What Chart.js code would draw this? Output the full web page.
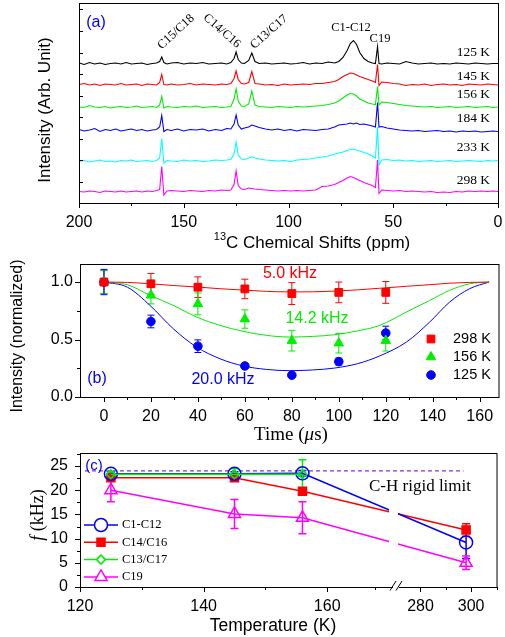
<!DOCTYPE html>
<html>
<head>
<meta charset="utf-8">
<script src="https://cdn.jsdelivr.net/npm/chart.js@4.4.1/dist/chart.umd.min.js"></script>
<style>
  body { margin: 0; background: #fff; width: 505px; height: 637px; position: relative; overflow: hidden; }
  canvas { position: absolute; left: 0; }
</style>
</head>
<body>
<canvas id="chartA" width="505" height="262" style="top:0"></canvas>
<canvas id="chartB" width="505" height="194" style="top:250px"></canvas>
<canvas id="chartC" width="505" height="195" style="top:442px"></canvas>
<script>
// ---- (a) 13C spectra ----
const ppm = [200,197.5,195,192.5,190,187.5,185,182.5,180,177.5,
  175,172.5,170,167.5,165,163,161.5,160.5,159.5,158,
  156,153,150,147,144,141,138,135,132,129.5,
  127.5,126,125,124,122.5,121,119,117.5,116,114,
  111,108,105,102,99,96,93,90,87,84,
  81,78,76,74,72,70.5,69,67.5,66,64,
  62,60,58.5,57.5,56.8,55.5,53,50,47,44,
  41,38,35,32,29,26,23,20,17,14,
  11,8,5,2.5,0];
const spectrumTemps = ['125 K', '145 K', '156 K', '184 K', '233 K', '298 K'];
const spectrumOffsets = [139.5, 118.5, 96, 73, 42, 11.5];
const spec125 = [0.5,-1,1,-0.5,0.5,-1,0,0.5,-0.5,1,
  -0.5,0,0.5,-1,0,0.5,2,6.5,1,-0.5,
  0.5,1,-0.5,0.5,0,1,-0.5,0,0.5,-0.5,
  1,5,11.5,4,0.5,0,3,10.5,2,0,
  0.5,-0.5,0,0.5,-0.5,0,1,-0.5,0.5,0,
  1.5,0.5,2,6,13,20,23,19,11,5,
  2,0.5,0,17,0,-0.5,0.5,0,-0.5,2,
  0.5,-0.5,0,0.5,-0.5,0,-0.5,0.5,0,-0.5,
  0.5,0,-0.5,0,0];
const spec145 = [0,1,-0.5,0.5,-1,0.5,0,-0.5,1,-0.5,
  0,0.5,-1,0.5,0,-0.5,2,10,0,-0.5,
  0.5,-0.5,0,1,-0.5,0.5,0,-0.5,0.5,0,
  1,6,13.5,5,1,0.5,2,13,1,0.5,
  -0.5,0,-1,0.5,-0.5,0,0.5,0,1,1,
  2,3,5,8,10,11.5,11,9.5,8,6.5,
  5,3.5,2,20,-1,2.5,2,1,0.5,-1,
  0,-0.5,0.5,-1,0,0.5,-0.5,0,-1,0.5,
  0,-0.5,0.5,0,-0.5];
const spec156 = [0,-0.5,1.5,0,-0.5,0.5,-1,0,0.5,-0.5,
  0,1,-0.5,0,0.5,-0.5,2,10.5,-1,0.5,
  0,-0.5,0.5,0,1,-0.5,0,0.5,-0.5,0,
  0.5,8,18,6,1,0.5,3,16,2,0.5,
  0,-0.5,0.5,0,-0.5,0.5,0,0.5,1,1.5,
  2.5,4,6,9,12,13.5,13,11,8,6,
  4,3,2.5,20.5,2,5,4.5,3.5,2.5,1.5,
  1,0.5,0,0.5,-0.5,0,0.5,-0.5,0,0.5,
  -0.5,0,0.5,-0.5,0];
const spec184 = [0.5,-1,0,1.5,-1.5,0.5,-0.5,1,-1,0,
  1,-0.5,0.5,-1,0,0.5,3,14.5,-1.5,0.5,
  -0.5,1,-1,0.5,0,1,-1,0.5,-0.5,1.5,
  1,6,15,5,1,2,3,5,4,2.5,
  1,0,1,-0.5,0.5,-1,0.5,0,-0.5,0.5,
  1,3,5,5.5,6,7,6,7,5.5,6,
  5,4,3,27.5,3,3.5,2,1,0,-0.5,
  -1,-0.5,-1.5,-1,-0.5,-1.5,-1,-2,-1,-1.5,
  -1,-2,-1.5,-1,-1.5];
const spec233 = [-0.5,0.5,-1,0,1,-0.5,0,-1,0.5,0,
  1,-0.5,0,0.5,-0.5,0.5,3,22.5,-2,0.5,
  0,-0.5,1,0,0.5,-0.5,0,1,0.5,1,
  1.5,7,19,6,2,1.5,3,4,3,2,
  1,0.5,0,0.5,-0.5,1,1.5,2,3,4,
  5,7,8,9,10.5,11.5,12,11,10,8.5,
  7,5,3,34,-4,1,1.5,0.5,1,0,
  0.5,-0.5,0,0.5,-0.5,0,0.5,-0.5,0,0.5,
  0,-0.5,0.5,0,0.5];
const spec298 = [0,-0.5,0.5,0,-1,0.5,0,-0.5,0.5,-0.5,
  0,0.5,-0.5,0.5,0,1,2,25,-3.5,0.5,
  1,0.5,0,1,0.5,0,1,0.5,1.5,1,
  1.5,7,20.5,6,2.5,2,3.5,3,2.5,2,
  1.5,1,0.5,1,0.5,1,0.5,1,1.5,5,
  5.5,7,9,11,13.5,15,14,12.5,11,9,
  7.5,6,4,31.5,-2,1.5,1,0.5,1,0,
  0.5,0,-0.5,0,-1,-0.5,-1,0,-0.5,0.5,
  0,0.5,0,0.5,0];
const ppmTicks = [200, 150, 100, 50, 0];

// ---- (b) intensity vs time ----
const times = [0, 20, 40, 60, 80, 100, 120];
const int298 = [1.0, 0.985, 0.955, 0.94, 0.90, 0.91, 0.91];
const err298 = [0.1, 0.09, 0.09, 0.085, 0.095, 0.09, 0.095];
const int156 = [1.0, 0.885, 0.81, 0.678, 0.49, 0.468, 0.49];
const err156 = [0.1, 0.075, 0.095, 0.08, 0.09, 0.085, 0.09];
const int125 = [1.0, 0.657, 0.442, 0.27, 0.19, 0.308, 0.556];
const err125 = [0.11, 0.055, 0.055, 0.02, 0.015, 0.03, 0.06];
const fitT = [0, 10, 19.6, 29.5, 39.4, 49.4, 59.3, 69.2, 79.1, 88.7, 98.3, 108, 117.4, 128.8, 138.7, 147.2, 155.7, 164];
const fit5 = [1.0, 0.997, 0.985, 0.97, 0.957, 0.942, 0.93, 0.919, 0.914, 0.915, 0.921, 0.932, 0.946, 0.963, 0.977, 0.99, 0.997, 1.0];
const fit14 = [1.0, 0.977, 0.884, 0.797, 0.696, 0.623, 0.571, 0.536, 0.522, 0.527, 0.542, 0.575, 0.623, 0.739, 0.84, 0.928, 0.985, 1.0];
const fit20 = [1.0, 0.955, 0.797, 0.594, 0.435, 0.333, 0.27, 0.24, 0.229, 0.235, 0.252, 0.29, 0.357, 0.478, 0.652, 0.826, 0.942, 1.0];
const timeTicks = [0, 20, 40, 60, 80, 100, 120, 140, 160];
const intTicks = [0, 0.5, 1.0];

// ---- (c) f vs temperature ----
const tempsC = [125, 145, 156, 298];
const fC1C12 = [23.4, 23.4, 23.5, 9.2];
const eC1C12 = [0.4, 0.4, 0.6, 3.3];
const fC14C16 = [22.6, 22.6, 19.8, 11.8];
const eC14C16 = [0.4, 0.4, 0.6, 1.3];
const fC13C17 = [23.3, 23.3, 23.3];
const eC13C17 = [0.5, 1.2, 3.0];
const fC19 = [20.0, 15.1, 14.3, 5.0];
const eC19 = [2.4, 3.0, 3.3, 1.4];
const rigidLimit = 24;
const rigidSpan = [120.8, 297];
const tempTicks = [120, 140, 160, 280, 300];
const fTicks = [0, 5, 10, 15, 20, 25];

// broken temperature axis: 120-170 K as is, 280-310 K squeezed after the break
function tv(T) { return T <= 200 ? T : 175.1 + (T - 280) * 0.41; }

Chart.defaults.font.family = 'Liberation Sans';
Chart.defaults.color = '#000';
Chart.defaults.animation = false;

const SANS = 'Liberation Sans', SERIF = 'Liberation Serif';

function line(ctx, x1, y1, x2, y2) { ctx.beginPath(); ctx.moveTo(x1, y1); ctx.lineTo(x2, y2); ctx.stroke(); }
function text(ctx, s, x, y, font, color, align, rot) {
  ctx.save();
  ctx.translate(x, y);
  if (rot) ctx.rotate(rot);
  ctx.font = font; ctx.fillStyle = color || '#000';
  ctx.textAlign = align || 'center'; ctx.textBaseline = 'middle';
  ctx.fillText(s, 0, 0);
  ctx.restore();
}
// parts: [text, font, dy]
function mixed(ctx, parts, cx, cy, rot) {
  ctx.save();
  ctx.translate(cx, cy);
  if (rot) ctx.rotate(rot);
  ctx.fillStyle = '#000'; ctx.textBaseline = 'middle'; ctx.textAlign = 'left';
  let w = 0;
  parts.forEach(p => { ctx.font = p[1]; w += ctx.measureText(p[0]).width; });
  let x = -w / 2;
  parts.forEach(p => { ctx.font = p[1]; ctx.fillText(p[0], x, p[2] || 0); x += ctx.measureText(p[0]).width; });
  ctx.restore();
}
function xTicks(ctx, sx, a, vals, len) { vals.forEach(v => { const p = Math.round(sx.getPixelForValue(v)) + 0.5; line(ctx, p, a.bottom, p, a.bottom + len); }); }
function yTicks(ctx, sy, a, vals, len) { vals.forEach(v => { const p = Math.round(sy.getPixelForValue(v)) + 0.5; line(ctx, a.left, p, a.left - len, p); }); }
function frame(ctx, a) { ctx.strokeRect(a.left + 0.5, a.top + 0.5, a.right - a.left, a.bottom - a.top); }

const errorBars = {
  id: 'errorBars',
  beforeDatasetsDraw(chart) {
    const { ctx, scales: { y } } = chart;
    chart.data.datasets.forEach((ds, i) => {
      if (!ds.errs) return;
      const meta = chart.getDatasetMeta(i);
      ctx.save();
      ctx.strokeStyle = ds.borderColor;
      ctx.lineWidth = ds.errWidth || 1;
      meta.data.forEach((pt, j) => {
        const e = ds.errs[j];
        if (!e) return;
        const v = ds.data[j].y;
        const y1 = y.getPixelForValue(v + e), y2 = y.getPixelForValue(v - e);
        const c = ds.capHalf || 3.5;
        ctx.beginPath();
        ctx.moveTo(pt.x, y1); ctx.lineTo(pt.x, y2);
        ctx.moveTo(pt.x - c, y1); ctx.lineTo(pt.x + c, y1);
        ctx.moveTo(pt.x - c, y2); ctx.lineTo(pt.x + c, y2);
        ctx.stroke();
      });
      ctx.restore();
    });
  }
};

function fixedTicks(vals) { return s => { s.ticks = vals.map(v => ({ value: v })); }; }
// fixed axis sizes, no extra room for overhanging labels
function fitH(h) { return s => { s.height = h; s.paddingLeft = 0; s.paddingRight = 0; }; }
function fitW(w) { return s => { s.width = w; s.paddingTop = 0; s.paddingBottom = 0; }; }
const tickFont = { family: SANS, size: 16 };

// ================= panel (a) =================
const specs = [spec125, spec145, spec156, spec184, spec233, spec298];
const specColors = ['#000000', '#ff0000', '#00ee00', '#0000ff', '#00ffff', '#ff00ff'];

const panelA = {
  id: 'panelA',
  afterDraw(chart) {
    const { ctx, chartArea: a, scales: { x, y } } = chart;
    ctx.save();
    ctx.strokeStyle = '#000'; ctx.lineWidth = 1;
    frame(ctx, a);
    xTicks(ctx, x, a, ppmTicks, 5);
    xTicks(ctx, x, a, [175, 125, 75, 25], 3);
    yTicks(ctx, y, a, [21.5, 43, 64.5, 86, 107.5, 129, 150.5, 172, 193.5], -4);
    text(ctx, 'Intensity (Arb. Unit)', 45, 110, '17px ' + SANS, '#000', 'center', -Math.PI / 2);
    mixed(ctx, [['13', '11px ' + SANS, -6], ['C Chemical Shifts (ppm)', '17px ' + SANS, 0]], 312, 243);
    const labelY = [52, 76, 94.5, 118.5, 147, 180];
    spectrumTemps.forEach((t, i) => text(ctx, t, 490, labelY[i], '13.5px ' + SERIF, '#000', 'right'));
    text(ctx, 'C15/C18', 176, 32, '12.5px ' + SERIF, '#000', 'center', -0.75);
    text(ctx, 'C14/C16', 222, 31, '12.5px ' + SERIF, '#000', 'center', 0.72);
    text(ctx, 'C13/C17', 269, 32, '12.5px ' + SERIF, '#000', 'center', -0.72);
    text(ctx, 'C1-C12', 351, 28, '12.5px ' + SERIF, '#000', 'center');
    text(ctx, 'C19', 380, 39, '12.5px ' + SERIF, '#000', 'center');
    text(ctx, '(a)', 96, 23, '16px ' + SANS, '#0000ff', 'center');
    ctx.restore();
  }
};

new Chart(document.getElementById('chartA'), {
  type: 'scatter',
  data: {
    datasets: specs.map((vals, k) => ({
      data: ppm.map((p, i) => ({ x: p, y: spectrumOffsets[k] + vals[i] })),
      showLine: true, borderColor: specColors[k], borderWidth: 1.1, pointRadius: 0, tension: 0
    }))
  },
  options: {
    responsive: false, devicePixelRatio: 1,
    layout: { padding: { left: 0, right: 7, top: 3, bottom: 0 } },
    plugins: { legend: { display: false }, tooltip: { enabled: false } },
    scales: {
      x: {
        type: 'linear', min: 0, max: 200, reverse: true,
        afterBuildTicks: fixedTicks(ppmTicks), afterFit: fitH(59),
        grid: { display: false, drawTicks: false }, border: { display: false },
        ticks: { font: tickFont, padding: 10, maxRotation: 0, autoSkip: false }
      },
      y: {
        type: 'linear', min: 0, max: 200,
        afterFit: fitW(79),
        grid: { display: false, drawTicks: false }, border: { display: false },
        ticks: { display: false }
      }
    }
  },
  plugins: [panelA]
});

// ================= panel (b) =================
const panelB = {
  id: 'panelB',
  afterDraw(chart) {
    const { ctx, chartArea: a, scales: { x, y } } = chart;
    ctx.save();
    ctx.strokeStyle = '#000'; ctx.lineWidth = 1;
    frame(ctx, a);
    xTicks(ctx, x, a, timeTicks, 5);
    xTicks(ctx, x, a, [10, 30, 50, 70, 90, 110, 130, 150], 3);
    yTicks(ctx, y, a, intTicks, 5);
    yTicks(ctx, y, a, [0.25, 0.75], 3);
    text(ctx, 'Intensity (normalized)', 18, 86, '16px ' + SANS, '#000', 'center', -Math.PI / 2);
    mixed(ctx, [['Time (', '19px ' + SERIF], ['\u03bc', 'italic 19px ' + SERIF], ['s)', '19px ' + SERIF]], 291, 185);
    text(ctx, '5.0 kHz', 290, 24, '16px ' + SANS, '#ff0000');
    text(ctx, '14.2 kHz', 317, 69, '16px ' + SANS, '#00ee00');
    text(ctx, '20.0 kHz', 223, 130, '16px ' + SANS, '#0000ff');
    text(ctx, '(b)', 97, 129, '16px ' + SANS, '#0000ff');
    const rows = [['298 K', 'rect', '#ff0000', 5.5], ['156 K', 'triangle', '#00ee00', 5.5], ['125 K', 'circle', '#0000ff', 4.3]];
    rows.forEach((r, i) => {
      const yy = 89 + i * 18;
      ctx.fillStyle = r[2]; ctx.strokeStyle = r[2];
      Chart.helpers.drawPoint(ctx, { pointStyle: r[1], radius: r[3], borderWidth: 1 }, 431, yy);
      text(ctx, r[0], 453, yy, '14.5px ' + SANS, '#000', 'left');
    });
    ctx.restore();
  }
};

function pts(xs, ys) { return ys.map((v, i) => ({ x: xs[i], y: v })); }

new Chart(document.getElementById('chartB'), {
  type: 'scatter',
  data: {
    datasets: [
      { data: pts(times, int298), errs: err298, capHalf: 3.5, borderColor: '#ff0000', backgroundColor: '#ff0000', pointStyle: 'rect', pointRadius: 5.5, pointBorderWidth: 1 },
      { data: pts(times, int156), errs: err156, capHalf: 3.5, borderColor: '#00ee00', backgroundColor: '#00ee00', pointStyle: 'triangle', pointRadius: 5.5, pointBorderWidth: 1 },
      { data: pts(times, int125), errs: err125, capHalf: 3.5, borderColor: '#0000ff', backgroundColor: '#0000ff', pointStyle: 'circle', pointRadius: 4.3, pointBorderWidth: 1 },
      { data: pts(fitT, fit5), showLine: true, borderColor: '#ff0000', borderWidth: 1, pointRadius: 0, cubicInterpolationMode: 'monotone' },
      { data: pts(fitT, fit14), showLine: true, borderColor: '#00ee00', borderWidth: 1, pointRadius: 0, cubicInterpolationMode: 'monotone' },
      { data: pts(fitT, fit20), showLine: true, borderColor: '#0000ff', borderWidth: 1, pointRadius: 0, cubicInterpolationMode: 'monotone' }
    ]
  },
  options: {
    responsive: false, devicePixelRatio: 1,
    layout: { padding: { left: 0, right: 6, top: 14, bottom: 0 } },
    plugins: { legend: { display: false }, tooltip: { enabled: false } },
    scales: {
      x: {
        type: 'linear', min: -10.2, max: 168,
        afterBuildTicks: fixedTicks(timeTicks), afterFit: fitH(47),
        grid: { display: false, drawTicks: false }, border: { display: false },
        ticks: { font: tickFont, padding: 10, maxRotation: 0, autoSkip: false }
      },
      y: {
        type: 'linear', min: 0, max: 1.157,
        afterBuildTicks: fixedTicks(intTicks), afterFit: fitW(80),
        grid: { display: false, drawTicks: false }, border: { display: false },
        ticks: { font: tickFont, padding: 7, callback: v => v.toFixed(1) }
      }
    }
  },
  plugins: [errorBars, panelB]
});

// ================= panel (c) =================
const legendC = [
  ['C1-C12', 'circle', '#0000ff', 6.5, false],
  ['C14/C16', 'rect', '#ff0000', 5.7, true],
  ['C13/C17', 'rectRot', '#00ee00', 4.5, false],
  ['C19', 'triangle', '#ff00ff', 7, false]
];

const panelC = {
  id: 'panelC',
  afterDraw(chart) {
    const { ctx, chartArea: a, scales: { x, y } } = chart;
    ctx.save();
    // axis break: gap in the lines
    ctx.fillStyle = '#fff';
    ctx.fillRect(389, 50, 9, a.bottom - 51);
    ctx.strokeStyle = '#000'; ctx.lineWidth = 1;
    frame(ctx, a);
    ctx.fillRect(393, a.bottom - 2, 6, 5);
    line(ctx, 390, a.bottom + 3.5, 396, a.bottom - 6);
    line(ctx, 396, a.bottom + 3.5, 402, a.bottom - 6);
    xTicks(ctx, x, a, tempTicks.map(tv), 5);
    xTicks(ctx, x, a, [130, 150, 167.7, tv(290), tv(310)], 3);
    yTicks(ctx, y, a, fTicks, 5);
    yTicks(ctx, y, a, [2.5, 7.5, 12.5, 17.5, 22.5, 27.5], 3);
    mixed(ctx, [['f', 'italic 18px ' + SERIF], [' (kHz)', '18px ' + SERIF]], 38, 73, -Math.PI / 2);
    text(ctx, 'Temperature (K)', 273, 184, '17.5px ' + SANS, '#000');
    text(ctx, 'C-H rigid limit', 420, 45, '17px ' + SERIF, '#000');
    text(ctx, '(c)', 94, 24, '15px ' + SANS, '#0000ff');
    legendC.forEach((r, i) => {
      const yy = 83 + i * 17.3;
      ctx.strokeStyle = r[2]; ctx.lineWidth = 1.5;
      line(ctx, 84, yy, 118, yy);
      ctx.fillStyle = r[4] ? r[2] : '#fff';
      Chart.helpers.drawPoint(ctx, { pointStyle: r[1], radius: r[3], borderWidth: 1.5 }, 101, yy);
      text(ctx, r[0], 122, yy, '12.5px ' + SERIF, '#000', 'left');
    });
    ctx.restore();
  }
};

function tpts(ts, ys) { return ys.map((v, i) => ({ x: tv(ts[i]), y: v })); }
const serC = (data, errs, color, style, r, filled, order) => ({
  data: tpts(tempsC, data), errs, capHalf: 4, errWidth: 1.5, showLine: true, order,
  borderColor: color, borderWidth: 1.5, backgroundColor: filled ? color : 'rgba(0,0,0,0)',
  pointStyle: style, pointRadius: r, pointBorderWidth: 1.5
});

new Chart(document.getElementById('chartC'), {
  type: 'scatter',
  data: {
    datasets: [
      serC(fC1C12, eC1C12, '#0000ff', 'circle', 6.5, false, 2),
      serC(fC14C16, eC14C16, '#ff0000', 'rect', 5.7, true, 3),
      serC(fC13C17, eC13C17, '#00ee00', 'rectRot', 4.5, false, 1),
      serC(fC19, eC19, '#ff00ff', 'triangle', 7, false, 4),
      { data: rigidSpan.map(t => ({ x: tv(t), y: rigidLimit })), showLine: true, order: 5,
        borderColor: '#8a2be2', borderWidth: 1.2, borderDash: [4, 3], pointRadius: 0 }
    ]
  },
  options: {
    responsive: false, devicePixelRatio: 1,
    layout: { padding: { left: 0, right: 6, top: 11, bottom: 0 } },
    plugins: { legend: { display: false }, tooltip: { enabled: false } },
    scales: {
      x: {
        type: 'linear', min: 120, max: tv(310),
        afterBuildTicks: fixedTicks(tempTicks.map(tv)), afterFit: fitH(50),
        grid: { display: false, drawTicks: false }, border: { display: false },
        ticks: { font: tickFont, padding: 10, maxRotation: 0, autoSkip: false,
          callback: v => { const i = tempTicks.findIndex(t => Math.abs(tv(t) - v) < 0.01); return i >= 0 ? String(tempTicks[i]) : ''; } }
      },
      y: {
        type: 'linear', min: 0, max: 27.7,
        afterBuildTicks: fixedTicks(fTicks), afterFit: fitW(80),
        grid: { display: false, drawTicks: false }, border: { display: false },
        ticks: { font: tickFont, padding: 12 }
      }
    }
  },
  plugins: [errorBars, panelC]
});
</script>
</body>
</html>
